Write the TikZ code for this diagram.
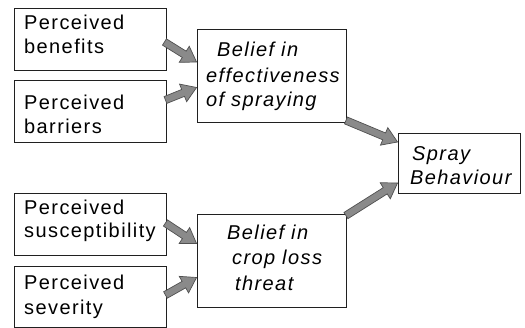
\documentclass[tikz,border=0pt]{standalone}
\usepackage{fontspec}
\setmainfont{Liberation Sans}[LetterSpace=7.0]
\usetikzlibrary{calc}
\definecolor{arrfill}{HTML}{8A8A8A}
\definecolor{arrline}{HTML}{505050}
\definecolor{boxline}{HTML}{202020}
\tikzset{
  box/.style={draw=boxline, line width=0.9pt, rectangle, inner sep=0pt},
  txt/.style={anchor=base west, inner sep=0pt, font=\fontsize{20}{24}\selectfont},
  itxt/.style={txt, font=\fontsize{20}{24}\selectfont\itshape},
  barrow/.style={draw=arrline, fill=arrfill, line width=0.7pt, line join=miter}
}
\newcommand\blockarrow[2]{%
  \draw[barrow] let \p1=(#1), \p2=(#2),
    \n1={atan2(\y2-\y1,\x2-\x1)},
    \n2={veclen(\x2-\x1,\y2-\y1)-14.5} in
    ($(\p1)+(\n1+90:3.7pt)$)
    -- ($(\p1)+(\n1:{\n2*1pt})+(\n1+90:3.7pt)$)
    -- ($(\p1)+(\n1:{\n2*1pt})+(\n1+90:9.5pt)$)
    -- (\p2)
    -- ($(\p1)+(\n1:{\n2*1pt})+(\n1-90:9.5pt)$)
    -- ($(\p1)+(\n1:{\n2*1pt})+(\n1-90:3.7pt)$)
    -- ($(\p1)+(\n1-90:3.7pt)$) -- cycle;}
\begin{document}
\begin{tikzpicture}[x=1pt,y=-1pt]
\useasboundingbox (0,0) rectangle (525,328);
% boxes
\node[box, minimum width=152pt, minimum height=62pt] (ben) at (90,39) {};
\node[box, minimum width=152pt, minimum height=62pt] (bar) at (90,111) {};
\node[box, minimum width=152pt, minimum height=62pt] (sus) at (90,224) {};
\node[box, minimum width=152pt, minimum height=61pt] (sev) at (90,296.5) {};
\node[box, minimum width=149.5pt, minimum height=93pt] (eff) at (271.75,75.5) {};
\node[box, minimum width=149.5pt, minimum height=93pt] (crop) at (271.75,260.5) {};
\node[box, minimum width=122pt, minimum height=60pt] (spray) at (459,163) {};
% texts
\node[txt] (ben1) at (24,29.5) {Perceived};
\node[txt] (ben2) at (24,53.5) {benefits};
\node[txt] (bar1) at (24,110) {Perceived};
\node[txt] (bar2) at (24,134) {barriers};
\node[txt] (sus1) at (24,215) {Perceived};
\node[txt] (sus2) at (24,238) {susceptibility};
\node[txt] (sev1) at (24,290) {Perceived};
\node[txt] (sev2) at (24,315) {severity};
\node[itxt] (eff1) at (217,57) {Belief in};
\node[itxt] (eff2) at (206,83) {effectiveness};
\node[itxt] (eff3) at (206,107) {of spraying};
\node[itxt] (crop1) at (227,240) {Belief in};
\node[itxt] (crop2) at (232,265) {crop loss};
\node[itxt] (crop3) at (235,291) {threat};
\node[itxt] (spray1) at (412,161) {Spray};
\node[itxt] (spray2) at (410,185) {Behaviour};
% arrows
\blockarrow{$(ben.east)+(-2,3)$}{$(eff.west)+(0,-13.5)$}
\blockarrow{$(bar.east)+(-1,-11)$}{$(eff.west)+(0,12)$}
\blockarrow{$(eff.south east)+(-1,-2)$}{$(spray.west)+(0,-21)$}
\blockarrow{$(crop.north east)+(-1,2)$}{$(spray.west)+(0,20)$}
\blockarrow{$(sus.east)+(-1,-1)$}{$(crop.west)+(0,-17)$}
\blockarrow{$(sev.east)+(-1,-1.5)$}{$(crop.west)+(0,17)$}
\end{tikzpicture}
\end{document}
